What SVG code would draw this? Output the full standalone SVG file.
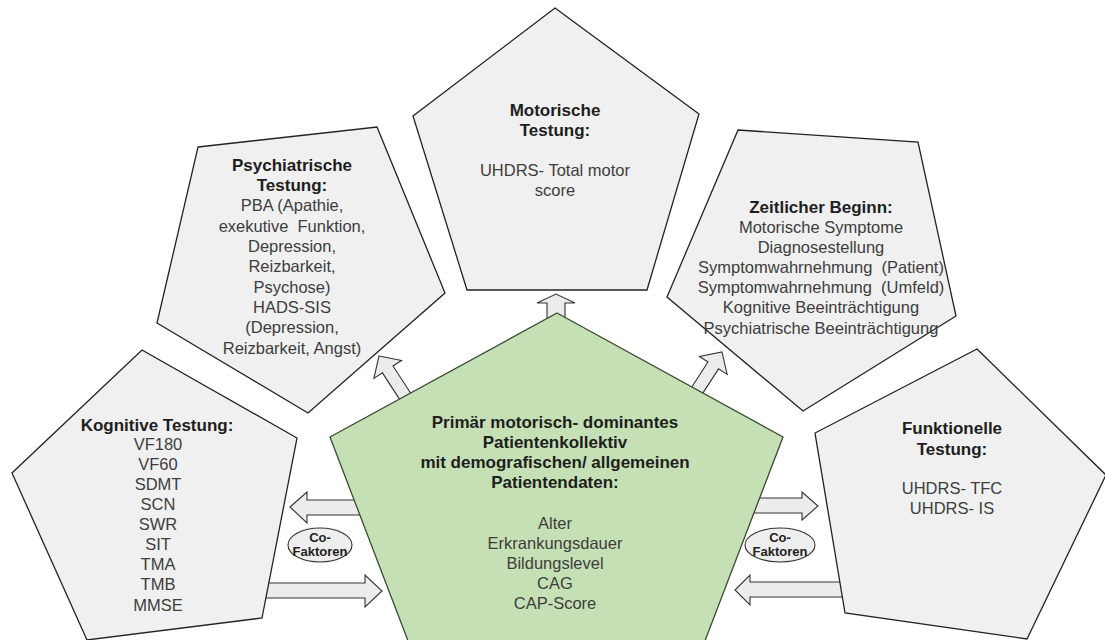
<svg xmlns="http://www.w3.org/2000/svg" width="1105" height="640" viewBox="0 0 1105 640">
<style>
.pg{fill:#f0f0f0;stroke:#222;stroke-width:1.3}
.gr{fill:#c5e0b4;stroke:#3b4a33;stroke-width:1.3}
.ar{fill:#ececec;stroke:#333;stroke-width:1.1}
.el{fill:#eeeeee;stroke:#333;stroke-width:1.1}
text{font-family:"Liberation Sans",Arial,sans-serif;text-anchor:middle;white-space:pre}
.t{font-size:17px;font-weight:bold;fill:#1e1e1e}
.b{font-size:16.5px;fill:#3d3d3d}
.c{font-size:13px;font-weight:bold;fill:#222}
</style>
<rect width="1105" height="640" fill="#fff"/>
<g id="connectors">
<polygon class="ar" points="547,318 547,303 537,303 556,294 575,303 565,303 565,318"/>
<polygon class="ar" transform="translate(379,356) rotate(-33)" points="0,0 16.5,16 6.3,16 6.3,50 -6.3,50 -6.3,16 -16.5,16"/>
<polygon class="ar" transform="translate(722,352) rotate(33)" points="0,0 16.5,16 6.3,16 6.3,50 -6.3,50 -6.3,16 -16.5,16"/>
<polygon class="ar" points="290,507 307,492 307,500 370,500 370,515 307,515 307,523"/>
<polygon class="ar" points="262,583 365,583 365,575 382,591 365,607 365,598 262,598"/>
<polygon class="ar" points="745,498 802,498 802,492 818,506 802,520 802,513 745,513"/>
<polygon class="ar" points="735,590 750,575 750,582 850,582 850,597 750,597 750,605"/>
</g>
<g id="motorische">
<polygon class="pg" points="555,8 699,114 647,290 467,290 413,116"/>
<text class="t" x="555" y="116">Motorische</text>
<text class="t" x="555" y="136">Testung:</text>
<text class="b" x="555" y="176">UHDRS- Total motor</text>
<text class="b" x="555" y="196">score</text>
</g>
<g id="psychiatrische">
<polygon class="pg" points="198,147 377,127 445,293 308,413 157,323"/>
<text class="t" x="292" y="171">Psychiatrische</text>
<text class="t" x="292" y="191">Testung:</text>
<text class="b" x="292" y="211">PBA (Apathie,</text>
<text class="b" x="292" y="232">exekutive  Funktion,</text>
<text class="b" x="292" y="252">Depression,</text>
<text class="b" x="292" y="272">Reizbarkeit,</text>
<text class="b" x="292" y="293">Psychose)</text>
<text class="b" x="292" y="313">HADS-SIS</text>
<text class="b" x="292" y="333">(Depression,</text>
<text class="b" x="292" y="354">Reizbarkeit, Angst)</text>
</g>
<g id="zeitlicher">
<polygon class="pg" points="738,130 918,142 956,316 803,411 667,297"/>
<text class="t" x="821" y="213">Zeitlicher Beginn:</text>
<text class="b" x="821" y="233">Motorische Symptome</text>
<text class="b" x="821" y="253">Diagnosestellung</text>
<text class="b" x="821" y="273">Symptomwahrnehmung  (Patient)</text>
<text class="b" x="821" y="293">Symptomwahrnehmung  (Umfeld)</text>
<text class="b" x="821" y="313">Kognitive Beeinträchtigung</text>
<text class="b" x="821" y="334">Psychiatrische Beeinträchtigung</text>
</g>
<g id="kognitive">
<polygon class="pg" points="142,350 297,438 262,618 87,640 12,473"/>
<text class="t" x="157" y="431">Kognitive Testung:</text>
<text class="b" x="158" y="450">VF180</text>
<text class="b" x="158" y="470">VF60</text>
<text class="b" x="158" y="490">SDMT</text>
<text class="b" x="158" y="510">SCN</text>
<text class="b" x="158" y="530">SWR</text>
<text class="b" x="158" y="550">SIT</text>
<text class="b" x="158" y="570">TMA</text>
<text class="b" x="158" y="590">TMB</text>
<text class="b" x="158" y="611">MMSE</text>
</g>
<g id="funktionelle">
<polygon class="pg" points="977,349 1106,475 1027,639 845,613 815,433"/>
<text class="t" x="952" y="434">Funktionelle</text>
<text class="t" x="952" y="455">Testung:</text>
<text class="b" x="952" y="494">UHDRS- TFC</text>
<text class="b" x="952" y="514">UHDRS- IS</text>
</g>
<g id="patientenkollektiv">
<polygon class="gr" points="557,313 783,437 703,646 410,646 330,437"/>
<text class="t" x="555" y="428">Primär motorisch- dominantes</text>
<text class="t" x="555" y="448">Patientenkollektiv</text>
<text class="t" x="555" y="468">mit demografischen/ allgemeinen</text>
<text class="t" x="555" y="488">Patientendaten:</text>
<text class="b" x="555" y="529">Alter</text>
<text class="b" x="555" y="549">Erkrankungsdauer</text>
<text class="b" x="555" y="569">Bildungslevel</text>
<text class="b" x="555" y="589">CAG</text>
<text class="b" x="555" y="609">CAP-Score</text>
</g>
<g id="cofaktoren-links">
<ellipse class="el" cx="320" cy="545" rx="32" ry="17"/>
<text class="c" x="320" y="542">Co-</text>
<text class="c" x="320" y="556">Faktoren</text>
</g>
<g id="cofaktoren-rechts">
<ellipse class="el" cx="780" cy="545" rx="35" ry="17"/>
<text class="c" x="780" y="542">Co-</text>
<text class="c" x="780" y="556">Faktoren</text>
</g>
</svg>
